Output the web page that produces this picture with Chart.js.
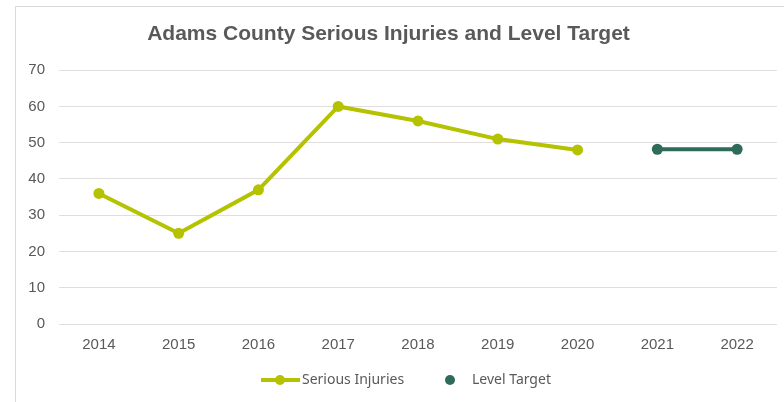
<!DOCTYPE html>
<html>
<head>
<meta charset="utf-8">
<script src="https://cdn.jsdelivr.net/npm/chart.js@4/dist/chart.umd.min.js"></script>
<style>
  html, body { margin: 0; padding: 0; background: #fff; }
  #wrap { position: relative; width: 784px; height: 402px; }
  #frame {
    position: absolute; left: 15px; top: 6px; right: 0; bottom: 0;
    border-left: 1px solid #d9d9d9; border-top: 1px solid #d9d9d9;
  }
  canvas { position: absolute; left: 0; top: 0; }
</style>
</head>
<body>
<div id="wrap">
  <div id="frame"></div>
  <canvas id="chart" width="784" height="402"></canvas>
</div>
<script>
const years = ["2014", "2015", "2016", "2017", "2018", "2019", "2020", "2021", "2022"];
const seriousInjuries = [36, 25, 37, 60, 56, 51, 48, null, null];
const levelTarget = [null, null, null, null, null, null, null, 48.2, 48.2];
const yTicks = [0, 10, 20, 30, 40, 50, 60, 70];

const injuryColor = "#b5c200";
const targetColor = "#2e6b5a";
const textColor = "#595959";

// legend drawn by hand: the injury entry shows a line with a dot
const bottomLegend = {
  id: "bottomLegend",
  afterDraw(chart) {
    const ctx = chart.ctx;
    const y = 380;
    ctx.save();
    ctx.font = "14px 'Noto Sans'";
    ctx.textBaseline = "middle";

    ctx.strokeStyle = injuryColor;
    ctx.lineWidth = 4;
    ctx.beginPath();
    ctx.moveTo(261, y);
    ctx.lineTo(300, y);
    ctx.stroke();
    ctx.fillStyle = injuryColor;
    ctx.beginPath();
    ctx.arc(280, y, 5, 0, Math.PI * 2);
    ctx.fill();
    ctx.fillStyle = textColor;
    ctx.fillText("Serious Injuries", 302, y);

    ctx.fillStyle = targetColor;
    ctx.beginPath();
    ctx.arc(450, y, 5, 0, Math.PI * 2);
    ctx.fill();
    ctx.fillStyle = textColor;
    ctx.fillText("Level Target", 472, y);
    ctx.restore();
  }
};

new Chart(document.getElementById("chart"), {
  type: "line",
  data: {
    labels: years,
    datasets: [
      {
        label: "Serious Injuries",
        data: seriousInjuries,
        borderColor: injuryColor,
        backgroundColor: injuryColor,
        borderWidth: 4,
        pointRadius: 5.5,
        pointBorderWidth: 0,
        pointHoverRadius: 5.5,
        tension: 0
      },
      {
        label: "Level Target",
        data: levelTarget,
        borderColor: targetColor,
        backgroundColor: targetColor,
        borderWidth: 4,
        pointRadius: 5.5,
        pointBorderWidth: 0,
        pointHoverRadius: 5.5,
        tension: 0
      }
    ]
  },
  options: {
    responsive: false,
    animation: false,
    layout: { padding: { left: 0, right: 7, top: 0, bottom: 44 } },
    plugins: {
      legend: { display: false },
      tooltip: { enabled: false },
      title: {
        display: true,
        text: "Adams County Serious Injuries and Level Target",
        color: textColor,
        font: { family: "'Liberation Sans', Arial, sans-serif", size: 21, weight: "bold" },
        padding: { top: 22, bottom: 23 }
      }
    },
    scales: {
      x: {
        offset: true,
        grid: { display: false },
        border: { display: false },
        ticks: {
          color: textColor,
          padding: 4,
          font: { family: "'Liberation Sans', Arial, sans-serif", size: 15 }
        }
      },
      y: {
        min: 0,
        max: 70,
        afterFit(scale) { scale.width = 59; },
        afterBuildTicks(scale) { scale.ticks = yTicks.map(v => ({ value: v })); },
        grid: { color: "#e3dede", lineWidth: 1, drawTicks: false },
        border: { display: false },
        ticks: {
          color: textColor,
          padding: 14,
          font: { family: "'Liberation Sans', Arial, sans-serif", size: 15 }
        }
      }
    }
  },
  plugins: [bottomLegend]
});
</script>
</body>
</html>
